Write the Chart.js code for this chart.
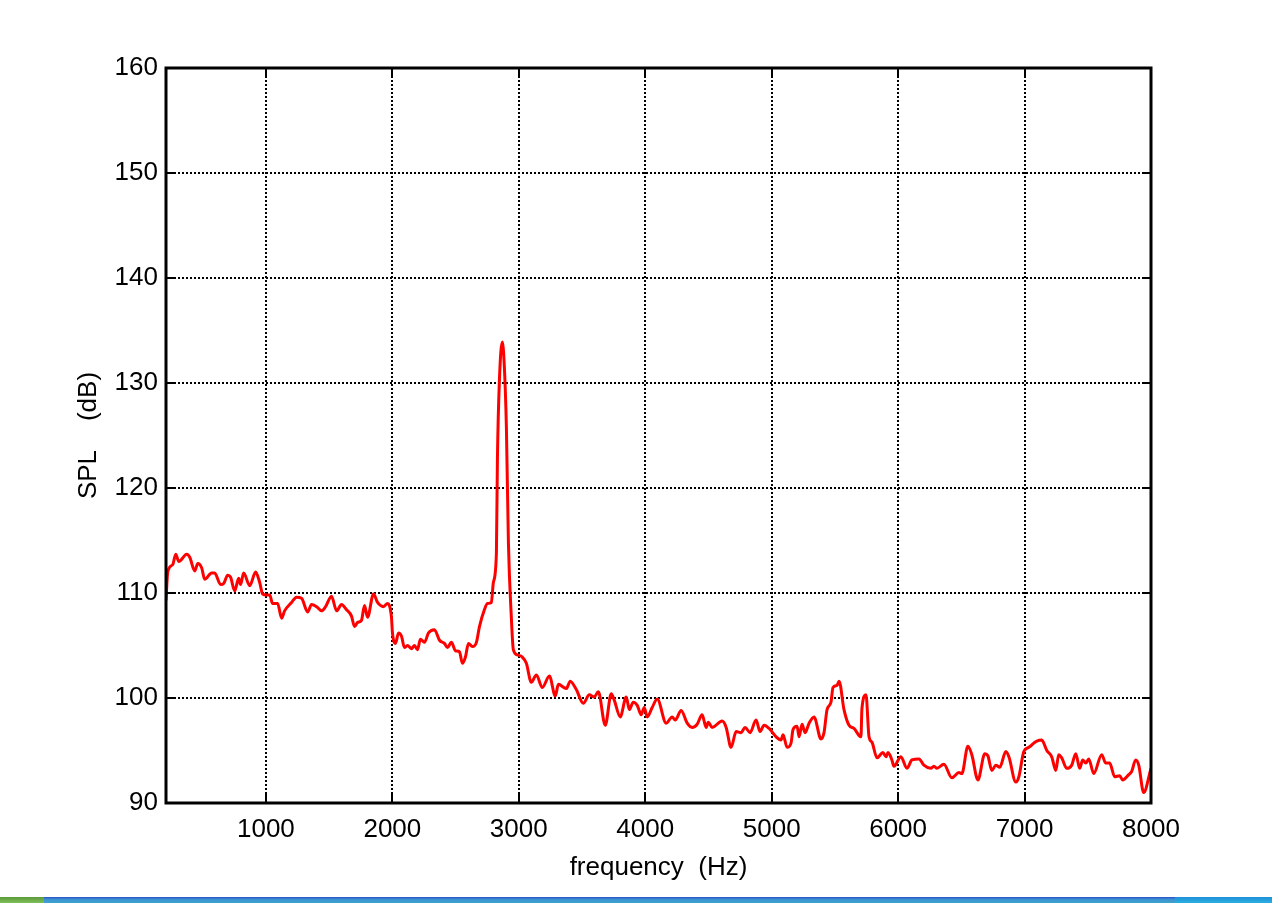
<!DOCTYPE html>
<html>
<head>
<meta charset="utf-8">
<script src="https://cdn.jsdelivr.net/npm/chart.js@4.4.1/dist/chart.umd.min.js"></script>
<style>
  html, body { margin: 0; padding: 0; background: #ffffff; overflow: hidden; }
  #wrap { position: relative; width: 1272px; height: 903px; }
  #taskbar { position: absolute; left: 0; top: 897px; width: 1272px; height: 6px;
    background: linear-gradient(#2f5fcf 0px, #2f5fcf 1px, #3d8fd0 2px, #3aa6cc 6px); }
  #start { position: absolute; left: 0; top: 0; width: 44px; height: 6px;
    background: linear-gradient(#5a9a3a, #7fbf5a); }
  #tray { position: absolute; right: 0; top: 0; width: 97px; height: 6px;
    background: linear-gradient(#1f8fd8, #2ab0e0); }
</style>
</head>
<body>
<div id="wrap">
  <canvas id="c" width="1272" height="903"></canvas>
  <div id="taskbar"><div id="start"></div><div id="tray"></div></div>
</div>
<script>
const freq = [210,224,263,287,311,374,398,437,461,492,516,571,595,642,666,698,721,753,785,800,824,872,919,951,974,1006,1030,1053,1093,1124,1148,1203,1243,1282,1330,1361,1401,1440,1472,1519,1559,1598,1638,1677,1701,1725,1756,1780,1804,1851,1883,1930,1962,1993,2001,2025,2049,2072,2096,2120,2151,2175,2199,2222,2254,2286,2333,2373,2412,2436,2467,2499,2531,2554,2578,2602,2633,2665,2689,2728,2752,2783,2799,2823,2831,2847,2870,2886,2902,2918,2941,2957,2989,3028,3060,3099,3139,3186,3242,3289,3313,3376,3407,3455,3510,3558,3597,3629,3684,3731,3755,3802,3850,3874,3905,3937,3968,3992,4016,4055,4095,4166,4213,4237,4284,4332,4371,4411,4450,4482,4498,4529,4608,4640,4679,4719,4758,4790,4829,4877,4908,4940,4980,5035,5074,5090,5122,5153,5169,5201,5217,5240,5264,5296,5335,5390,5414,5438,5469,5485,5517,5533,5572,5612,5651,5706,5714,5746,5770,5793,5833,5880,5904,5920,5951,5967,6022,6070,6109,6165,6204,6259,6283,6307,6362,6425,6481,6504,6552,6583,6631,6686,6710,6741,6773,6804,6852,6876,6931,6955,6994,7034,7073,7097,7136,7176,7215,7247,7270,7294,7334,7373,7405,7436,7460,7484,7508,7547,7610,7642,7673,7713,7752,7776,7824,7847,7879,7903,7942,8000];

const spl = [109.3,112.0,112.7,113.7,113.0,113.7,113.4,112.1,112.8,112.4,111.3,111.9,111.9,110.8,110.9,111.7,111.5,110.2,111.4,110.8,111.9,110.7,112.0,111.0,109.9,109.8,109.8,109.0,109.0,107.6,108.3,109.1,109.6,109.5,108.2,108.9,108.7,108.3,108.7,109.7,108.3,108.9,108.4,107.8,106.8,107.2,107.4,108.8,107.7,109.9,109.1,108.7,109.0,107.7,106.2,105.2,106.2,105.9,104.8,105.0,104.7,105.0,104.6,105.6,105.3,106.2,106.5,105.5,105.2,104.8,105.3,104.5,104.4,103.3,103.9,105.2,104.9,105.3,106.8,108.4,109.0,109.1,111.0,113.8,122.7,130.3,133.9,131.5,125.8,114.8,107.7,104.6,104.1,103.9,103.3,101.5,102.2,101.0,102.1,100.2,101.3,100.9,101.6,100.8,99.5,100.3,100.1,100.6,97.4,100.4,99.8,98.2,100.1,98.9,99.6,99.3,98.4,99.1,98.2,99.1,99.9,97.6,98.2,97.9,98.8,97.6,97.2,97.5,98.4,97.2,97.7,97.2,97.8,97.2,95.3,96.8,96.7,97.2,96.7,97.9,96.8,97.4,97.1,96.3,96.0,96.5,95.3,95.7,97.0,97.3,96.3,97.5,96.7,97.6,98.2,96.1,96.7,98.9,99.6,101.0,101.2,101.6,98.9,97.4,97.1,96.3,99.0,100.3,96.3,95.8,94.3,94.8,94.4,94.8,94.1,93.5,94.4,93.3,94.1,94.2,93.6,93.3,93.5,93.3,93.7,92.4,92.9,92.8,95.4,94.6,92.2,94.7,94.5,93.1,93.6,93.4,94.9,94.4,92.0,92.5,94.9,95.3,95.7,95.9,96.0,95.0,94.4,93.1,94.6,94.3,93.3,93.6,94.7,93.3,94.1,93.8,94.2,92.8,94.6,93.8,93.8,92.5,92.6,92.2,92.7,93.0,94.1,93.6,91.0,93.3];

const xTicks = [1000,2000,3000,4000,5000,6000,7000,8000];
const yTicks = [90,100,110,120,130,140,150,160];
const xTitle = 'frequency  (Hz)';
const yTitle = 'SPL    (dB)';

const FONT = { family: '"Liberation Sans", Arial, Helvetica, sans-serif', size: 26 };

const framePlugin = {
  id: 'frame',
  afterDraw(chart) {
    const { ctx, chartArea: a, scales } = chart;
    const xs = scales.x, ys = scales.y;
    ctx.save();
    ctx.strokeStyle = '#000';
    ctx.lineWidth = 2;
    const tl = 9;
    ctx.beginPath();
    xs.ticks.forEach(t => {
      const px = Math.round(xs.getPixelForValue(t.value));
      ctx.moveTo(px, a.bottom); ctx.lineTo(px, a.bottom - tl);
      ctx.moveTo(px, a.top); ctx.lineTo(px, a.top + tl);
    });
    ys.ticks.forEach(t => {
      const py = Math.round(ys.getPixelForValue(t.value));
      ctx.moveTo(a.left, py); ctx.lineTo(a.left + tl, py);
      ctx.moveTo(a.right, py); ctx.lineTo(a.right - tl, py);
    });
    ctx.stroke();
    ctx.lineWidth = 3;
    ctx.strokeRect(a.left, a.top, a.right - a.left, a.bottom - a.top);
    ctx.restore();
  }
};

new Chart(document.getElementById('c'), {
  type: 'line',
  data: {
    datasets: [{
      data: freq.map((f, i) => ({ x: f, y: spl[i] })),
      borderColor: '#ff0000',
      borderWidth: 3,
      pointRadius: 0,
      fill: false,
      tension: 0.3,
      cubicInterpolationMode: 'monotone'
    }]
  },
  options: {
    responsive: false,
    animation: false,
    devicePixelRatio: 1,
    layout: { padding: { left: 0, top: 68, right: 121, bottom: 0 } },
    plugins: { legend: { display: false }, tooltip: { enabled: false } },
    scales: {
      x: {
        type: 'linear',
        min: 210, max: 8000,
        afterBuildTicks: s => { s.ticks = xTicks.map(v => ({ value: v })); },
        afterFit: s => { s.height = 100; },
        grid: { color: '#000', lineWidth: 2, drawTicks: false },
        border: { display: false, dash: [2, 2] },
        ticks: { color: '#000', font: FONT, padding: 11, maxRotation: 0, autoSkip: false,
                 callback: v => String(v) },
        title: { display: true, text: xTitle, color: '#000', font: FONT, padding: { top: 0, bottom: 20 } }
      },
      y: {
        type: 'linear',
        min: 90, max: 160,
        afterBuildTicks: s => { s.ticks = yTicks.map(v => ({ value: v })); },
        afterFit: s => { s.width = 166; },
        grid: { color: '#000', lineWidth: 2, drawTicks: false },
        border: { display: false, dash: [2, 2] },
        ticks: { color: '#000', font: FONT, padding: 8, autoSkip: false,
                 callback: v => String(v) },
        title: { display: true, text: yTitle, color: '#000', font: FONT, padding: { top: 73, bottom: 0 } }
      }
    }
  },
  plugins: [framePlugin]
});
</script>
</body>
</html>
